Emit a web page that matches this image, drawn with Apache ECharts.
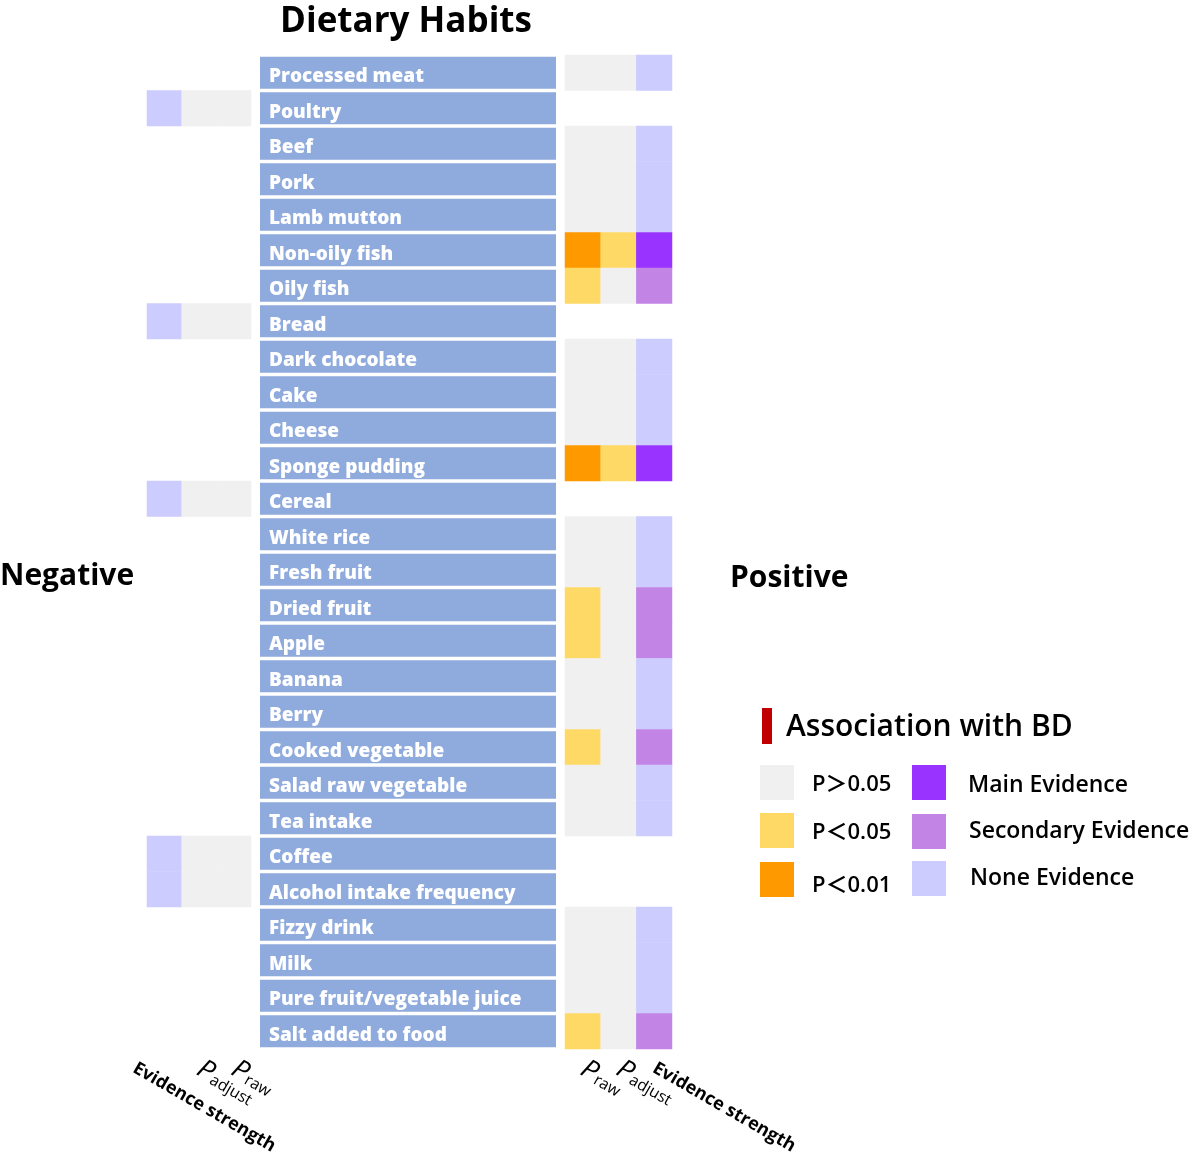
<!DOCTYPE html>
<html><head><meta charset="utf-8">
<script src="https://cdn.jsdelivr.net/npm/echarts@6/dist/echarts.min.js"></script>
<style>html,body{margin:0;padding:0;background:#fff}#c{width:1194px;height:1154px}</style>
</head><body><div id="c"></div>
<script>
const categories = ['Processed meat','Poultry','Beef','Pork','Lamb mutton','Non-oily fish','Oily fish','Bread','Dark chocolate','Cake','Cheese','Sponge pudding','Cereal','White rice','Fresh fruit','Dried fruit','Apple','Banana','Berry','Cooked vegetable','Salad raw vegetable','Tea intake','Coffee','Alcohol intake frequency','Fizzy drink','Milk','Pure fruit/vegetable juice','Salt added to food'];
// direction of association: 'pos' = right panel, 'neg' = left panel
const direction = ['pos','neg','pos','pos','pos','pos','pos','neg','pos','pos','pos','pos','neg','pos','pos','pos','pos','pos','pos','pos','pos','pos','neg','neg','pos','pos','pos','pos'];
// P levels: 0 = P>0.05, 1 = P<0.05, 2 = P<0.01
const pRaw    = [0,0,0,0,0,2,1,0,0,0,0,2,0,0,0,1,1,0,0,1,0,0,0,0,0,0,0,1];
const pAdjust = [0,0,0,0,0,1,0,0,0,0,0,1,0,0,0,0,0,0,0,0,0,0,0,0,0,0,0,0];
// Evidence: 3 = Main, 4 = Secondary, 5 = None
const evidence= [5,5,5,5,5,3,4,5,5,5,5,3,5,5,5,4,4,5,5,4,5,5,5,5,5,5,5,4];
const barValues = categories.map(() => 1);
const leftCols  = ['Evidence strength','Padjust','Praw'];
const rightCols = ['Praw','Padjust','Evidence strength'];

const COLORS = {0:'#F0F0F0',1:'#FFD966',2:'#FF9900',3:'#9933FF',4:'#C285E6',5:'#CCCCFF'};
const leftData = [], rightData = [];
categories.forEach((c,i) => {
  if (direction[i] === 'neg') {
    leftData.push([0,i,evidence[i]]); leftData.push([1,i,pAdjust[i]]); leftData.push([2,i,pRaw[i]]);
  } else {
    rightData.push([0,i,pRaw[i]]); rightData.push([1,i,pAdjust[i]]); rightData.push([2,i,evidence[i]]);
  }
});

const FONT = '"Open Sans", "Noto Sans", sans-serif';
const CJKFONT = '"Open Sans", "Noto Sans CJK SC", sans-serif';
function colLabel(v){
  if (v === 'Praw') return '{p|P}{s|raw}';
  if (v === 'Padjust') return '{p|P}{s|adjust}';
  return '{e|' + v + '}';
}
function richSet(ePad){
  return {
    p:{fontSize:27, fontStyle:'italic', fontFamily:FONT, color:'#000', lineHeight:30},
    s:{fontSize:16, fontFamily:FONT, color:'#000', padding:[9,0,0,1], lineHeight:30},
    e:{fontSize:18, fontWeight:'bold', fontFamily:FONT, color:'#000', lineHeight:30, padding:ePad}
  };
}
const gridTop = 55, gridBottom = 1154 - 1049;
const yCat = (gi) => ({type:'category', gridIndex:gi, data:categories, inverse:true, show:false});
const pieces = Object.keys(COLORS).map(k => ({value:+k, color:COLORS[k]}));

const option = {
  animation:false,
  backgroundColor:'#fff',
  title:{text:'Dietary Habits', left:401, top:0, textAlign:'center',
    textStyle:{fontSize:35, fontWeight:'bold', fontFamily:FONT, color:'#000'}},
  grid:[
    {left:147, width:104, top:gridTop, bottom:gridBottom, outerBoundsMode:'none'},
    {left:260, width:296, top:gridTop, bottom:gridBottom, outerBoundsMode:'none'},
    {left:565, width:107, top:gridTop, bottom:gridBottom, outerBoundsMode:'none'}
  ],
  xAxis:[
    {type:'category', gridIndex:0, data:leftCols, axisLine:{show:false}, axisTick:{show:false},
      axisLabel:{rotate:-30, margin:18, formatter:colLabel, rich:richSet([30,0,0,-26]), interval:0}},
    {type:'value', gridIndex:1, min:0, max:1, show:false},
    {type:'category', gridIndex:2, data:rightCols, axisLine:{show:false}, axisTick:{show:false},
      axisLabel:{rotate:-30, margin:18, formatter:colLabel, rich:richSet([0,0,0,0]), interval:0}}
  ],
  yAxis:[yCat(0), yCat(1), yCat(2)],
  visualMap:{type:'piecewise', show:false, dimension:2, pieces:pieces, seriesIndex:[0,2]},
  series:[
    {type:'heatmap', xAxisIndex:0, yAxisIndex:0, data:leftData, itemStyle:{borderWidth:0}},
    {type:'bar', xAxisIndex:1, yAxisIndex:1, data:barValues, barWidth:32,
      itemStyle:{color:'#8FAADC'},
      label:{show:true, position:'insideLeft', distance:9, offset:[0,4],
        formatter:(p)=>categories[p.dataIndex], color:'#fff', fontSize:19, fontWeight:800, fontFamily:FONT}},
    {type:'heatmap', xAxisIndex:2, yAxisIndex:2, data:rightData, itemStyle:{borderWidth:0}}
  ],
  graphic:[
    {type:'text', left:0, top:561, style:{text:'Negative', font:'bold 30px '+FONT, fill:'#000'}},
    {type:'text', left:730, top:563, style:{text:'Positive', font:'bold 30px '+FONT, fill:'#000'}},
    {type:'rect', shape:{x:762, y:708, width:10, height:36}, style:{fill:'#C00000'}},
    {type:'text', left:786, top:712, style:{text:'Association with BD', font:'600 30px '+FONT, fill:'#000'}},
    {type:'rect', shape:{x:760, y:765, width:34, height:35}, style:{fill:COLORS[0]}},
    {type:'rect', shape:{x:760, y:813, width:34, height:35}, style:{fill:COLORS[1]}},
    {type:'rect', shape:{x:760, y:862, width:34, height:35}, style:{fill:COLORS[2]}},
    {type:'rect', shape:{x:912, y:765, width:34, height:35}, style:{fill:COLORS[3]}},
    {type:'rect', shape:{x:912, y:814, width:34, height:35}, style:{fill:COLORS[4]}},
    {type:'rect', shape:{x:912, y:861, width:34, height:35}, style:{fill:COLORS[5]}},
    {type:'text', left:812, top:774, style:{text:'P＞0.05', font:'600 22px '+CJKFONT, fill:'#000'}},
    {type:'text', left:812, top:822, style:{text:'P＜0.05', font:'600 22px '+CJKFONT, fill:'#000'}},
    {type:'text', left:812, top:875, style:{text:'P＜0.01', font:'600 22px '+CJKFONT, fill:'#000'}},
    {type:'text', left:968, top:774, style:{text:'Main Evidence', font:'600 23px '+FONT, fill:'#000'}},
    {type:'text', left:969, top:820, style:{text:'Secondary Evidence', font:'600 23px '+FONT, fill:'#000'}},
    {type:'text', left:970, top:867, style:{text:'None Evidence', font:'600 23px '+FONT, fill:'#000'}}
  ]
};
echarts.init(document.getElementById('c')).setOption(option);
</script></body></html>
